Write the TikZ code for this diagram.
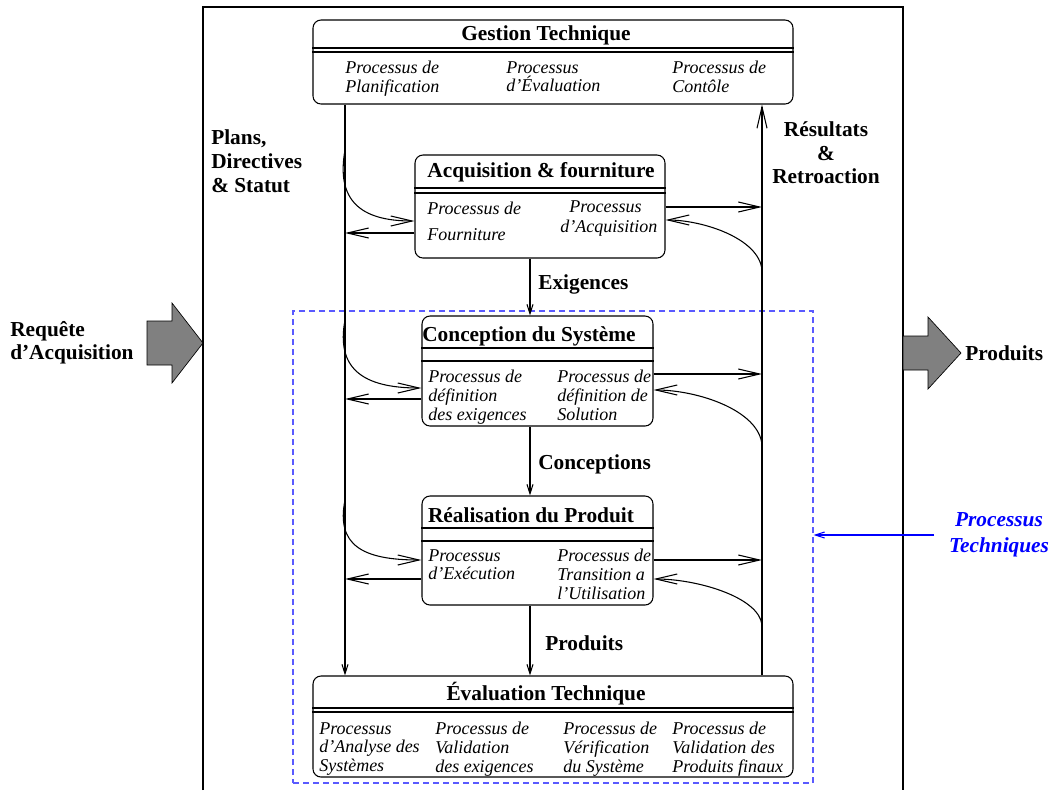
\documentclass[tikz,border=0pt]{standalone}
\usepackage{fontspec}
\setmainfont{Liberation Serif}
\usetikzlibrary{arrows.meta,calc}
\definecolor{dashblue}{RGB}{90,90,255}
\definecolor{arrgray}{RGB}{128,128,128}
\begin{document}
\begin{tikzpicture}[x=0.75pt,y=-0.75pt,
  pbox/.style={draw, rounded corners=6pt, line width=0.8pt, inner sep=0pt, fill=white},
  ttl/.style={font=\fontsize{16}{18}\selectfont\bfseries, inner sep=0pt},
  itm/.style={font=\fontsize{13.5}{14.1}\selectfont\itshape, align=left, anchor=north west, inner sep=0pt},
  lbl/.style={font=\fontsize{16}{17.5}\selectfont\bfseries, inner sep=0pt},
  dline/.style={line width=0.8pt},
  bigarr/.style={-{Straight Barb[length=16pt,width=7.5pt]}, line width=0.8pt},
  smallarr/.style={-{Straight Barb[length=7pt,width=4.5pt]}, line width=0.8pt},
  garrow/.style={fill=arrgray, draw=black, line width=0.5pt}
]
\useasboundingbox (0,0) rectangle (1054,790);

% outer frame
\draw[line width=0.8pt] (203,790) -- (203,7) -- (903,7) -- (903,790);

% dashed technical processes frame
\node[draw=dashblue, dash pattern=on 4.5pt off 3pt, line width=0.8pt, minimum width=390pt, minimum height=354pt, inner sep=0pt] (tp) at (553,547) {};

% helper coordinates
\coordinate (lx) at (345,0);
\coordinate (rx) at (762,0);
\coordinate (cx) at (530,0);

% Gestion Technique
\node[pbox, minimum width=360pt, minimum height=63pt] (gt) at (553,62) {};
\node[ttl] (gtt) at (546,35) {Gestion Technique};
\draw[dline] (gt.west |- 0,48) -- (gt.east |- 0,48);
\draw[dline] (gt.west |- 0,52) -- (gt.east |- 0,52);
\node[itm] (gt1) at (345,61) {Processus de\\Planification};
\node[itm] (gt2) at (506,61) {Processus\\d'Évaluation};
\node[itm] (gt3) at (672,61) {Processus de\\Contôle};

% Acquisition & fourniture
\node[pbox, minimum width=187.5pt, minimum height=77.25pt] (acq) at (540,206.5) {};
\node[ttl] (acqt) at (541,172) {Acquisition \& fourniture};
\draw[dline] (acq.west |- 0,188) -- (acq.east |- 0,188);
\draw[dline] (acq.west |- 0,193) -- (acq.east |- 0,193);
\node[itm] (acq1) at (427,202) {Processus de\\[5pt]Fourniture};
\node[itm] (acq2) at (560,200) {\hspace*{6.75pt}Processus\\[1.5pt]d'Acquisition};

% Conception du Systeme
\node[pbox, minimum width=173.25pt, minimum height=82.5pt] (cs) at (537.5,371) {};
\node[ttl] (cst) at (529,336) {Conception du Système};
\draw[dline] (cs.west |- 0,348) -- (cs.east |- 0,348);
\draw[dline] (cs.west |- 0,361) -- (cs.east |- 0,361);
\node[itm] (cs1) at (428,370) {Processus de\\définition\\des exigences};
\node[itm] (cs2) at (557,370) {Processus de\\définition de\\Solution};

% Realisation du Produit
\node[pbox, minimum width=173.25pt, minimum height=81.75pt] (rp) at (537.5,550.5) {};
\node[ttl] (rpt) at (531,515) {Réalisation du Produit};
\draw[dline] (rp.west |- 0,528) -- (rp.east |- 0,528);
\draw[dline] (rp.west |- 0,541) -- (rp.east |- 0,541);
\node[itm] (rp1) at (428,549) {Processus\\d'Exécution};
\node[itm] (rp2) at (557,549) {Processus de\\Transition a\\l'Utilisation};

% Evaluation Technique
\node[pbox, minimum width=360pt, minimum height=75.75pt] (et) at (553,726.5) {};
\node[ttl] (ett) at (546,694) {Évaluation Technique};
\draw[dline] (et.west |- 0,708) -- (et.east |- 0,708);
\draw[dline] (et.west |- 0,712) -- (et.east |- 0,712);
\node[itm] (et1) at (319,722) {Processus\\d'Analyse des\\Systèmes};
\node[itm] (et2) at (435,722) {Processus de\\Validation\\des exigences};
\node[itm] (et3) at (563,722) {Processus de\\Vérification\\du Système};
\node[itm] (et4) at (672,722) {Processus de\\Validation des\\Produits finaux};

% main vertical flows
\draw[smallarr] (gt.south -| lx) -- (et.north -| lx);
\draw[bigarr] (et.north -| rx) -- (gt.south -| rx);
\draw[smallarr] (acq.south -| cx) -- (cs.north -| cx);
\draw[smallarr] (cs.south -| cx) -- (rp.north -| cx);
\draw[smallarr] (rp.south -| cx) -- (et.north -| cx);

% acquisition side arrows
\draw[bigarr] (acq.east |- 0,207) -- (rx |- 0,207);
\draw[bigarr] (rx |- 0,270) .. controls (759,238) and (702,220) .. (acq.east |- 0,220);
\draw[bigarr] (lx |- 0,150) .. controls (336,200) and (360,221) .. (acq.west |- 0,221);
\draw[bigarr] (acq.west |- 0,233) -- (lx |- 0,233);

% conception side arrows
\draw[bigarr] (cs.east |- 0,374) -- (rx |- 0,374);
\draw[bigarr] (rx |- 0,445) .. controls (759,410) and (697,390) .. (cs.east |- 0,390);
\draw[bigarr] (lx |- 0,320) .. controls (336,368) and (362,388) .. (cs.west |- 0,388);
\draw[bigarr] (cs.west |- 0,399) -- (lx |- 0,399);

% realisation side arrows
\draw[bigarr] (rp.east |- 0,560) -- (rx |- 0,560);
\draw[bigarr] (rx |- 0,625) .. controls (759,597) and (697,579) .. (rp.east |- 0,579);
\draw[bigarr] (lx |- 0,500) .. controls (336,545) and (362,560) .. (rp.west |- 0,560);
\draw[bigarr] (rp.west |- 0,579) -- (lx |- 0,579);

% labels
\node[lbl, font=\fontsize{16}{18}\selectfont\bfseries, anchor=west, align=left] (plans) at (211,161) {Plans,\\Directives\\\& Statut};
\node[lbl, align=center] (res) at (826,153) {Résultats\\\&\\Retroaction};
\node[lbl, anchor=west] (exig) at (538,284) {Exigences};
\node[lbl, anchor=west] (concs) at (538,464) {Conceptions};
\node[lbl, anchor=west] (prods) at (545,643) {Produits};
\node[lbl, anchor=west, align=left] (req) at (10,343) {Requête\\d'Acquisition};
\node[lbl, anchor=west] (prod) at (965,353) {Produits};
\node[lbl, font=\fontsize{16}{19.5}\selectfont\bfseries\itshape, text=blue, align=center] (pt) at (999,535) {Processus\\Techniques};
\draw[blue, smallarr, line width=0.8pt, shorten <=11pt] (pt.west) -- (tp.east |- pt.west);

% big gray input / output arrows
\draw[garrow] (147,321) -- (172,321) -- (172,303) -- (203,343) -- (172,383) -- (172,365) -- (147,365) -- cycle;
\draw[garrow] (903,336) -- (928,336) -- (928,317) -- (961,353) -- (928,389) -- (928,370) -- (903,370) -- cycle;
\end{tikzpicture}
\end{document}
